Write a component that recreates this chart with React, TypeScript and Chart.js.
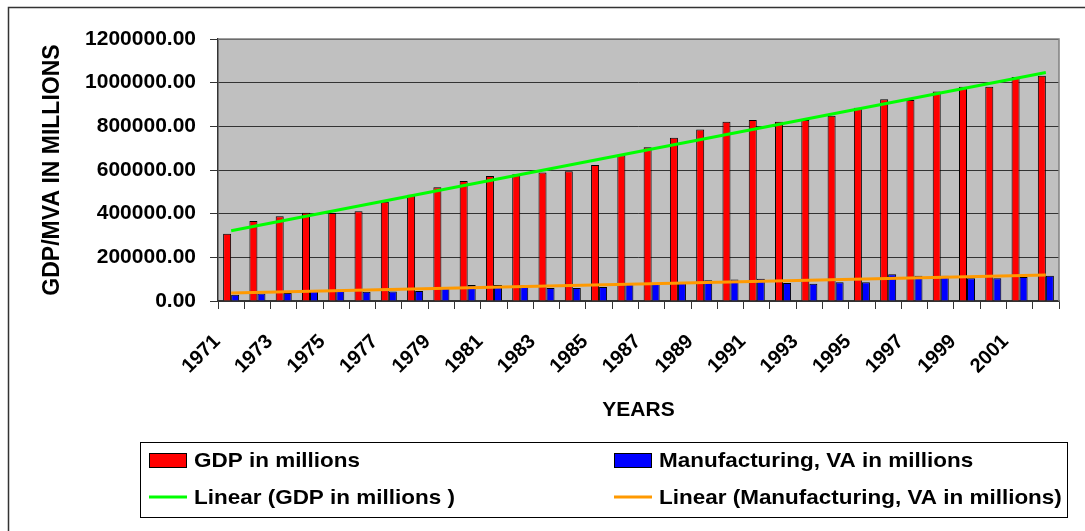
import React, { useEffect, useRef } from "react";
import { Chart, registerables } from "chart.js";

Chart.register(...registerables);

const years = [
  "1971", "1972", "1973", "1974", "1975", "1976", "1977", "1978",
  "1979", "1980", "1981", "1982", "1983", "1984", "1985", "1986",
  "1987", "1988", "1989", "1990", "1991", "1992", "1993", "1994",
  "1995", "1996", "1997", "1998", "1999", "2000", "2001", "2002",
];

const gdpInMillions = [
  308000, 366000, 388000, 404000, 403000, 411000, 455000, 487000,
  521000, 550000, 572000, 580000, 588000, 594000, 623000, 667000,
  704000, 748000, 785000, 821000, 829000, 821000, 829000, 849000,
  885000, 924000, 921000, 960000, 981000, 981000, 1026000, 1032000,
];

const manufacturingVA = [
  29000, 34000, 37000, 50000, 48000, 42000, 43000, 46000,
  64000, 73000, 73000, 72000, 60000, 60000, 64000, 82000,
  82000, 87000, 95000, 98000, 102000, 82000, 79000, 86000,
  86000, 122000, 116000, 116000, 104000, 104000, 110000, 116000,
];

// Trend line end values (first year, last year)
const gdpTrendEnds = [322000, 1047000];
const mfgTrendEnds = [36600, 119000];

const yMin = 0;
const yMax = 1200000;
const yStep = 200000;

const seriesNames = [
  "GDP in millions",
  "Manufacturing, VA in millions",
  "Linear (GDP in millions )",
  "Linear (Manufacturing, VA in millions)",
];

const FONT = '"Liberation Sans", Arial, Helvetica, sans-serif';

function endsToSeries(ends: number[], n: number) {
  const arr: (number | null)[] = new Array(n).fill(null);
  arr[0] = ends[0];
  arr[n - 1] = ends[1];
  return arr;
}

function stretchedText(ctx: CanvasRenderingContext2D, text: string, x: number, y: number, sx: number) {
  ctx.save();
  ctx.translate(x, y);
  ctx.scale(sx, 1);
  ctx.fillText(text, 0, 0);
  ctx.restore();
}

const decorPlugin = {
  id: "decor",
  beforeDraw(chart: any) {
    const { ctx, chartArea } = chart;
    ctx.save();
    ctx.fillStyle = "#ffffff";
    ctx.fillRect(0, 0, chart.width, chart.height);
    ctx.fillStyle = "#c0c0c0";
    ctx.fillRect(chartArea.left, chartArea.top, chartArea.right - chartArea.left, chartArea.bottom - chartArea.top);
    // outer frame (top and left visible)
    ctx.strokeStyle = "#333333";
    ctx.lineWidth = 1.5;
    ctx.beginPath();
    ctx.moveTo(8.5, chart.height + 5);
    ctx.lineTo(8.5, 7.5);
    ctx.lineTo(chart.width + 5, 7.5);
    ctx.stroke();
    ctx.restore();
  },
  afterDraw(chart: any) {
    const { ctx, chartArea } = chart;
    ctx.save();
    // plot area border top / right
    ctx.strokeStyle = "#808080";
    ctx.lineWidth = 1.5;
    ctx.beginPath();
    ctx.moveTo(chartArea.left, chartArea.top);
    ctx.lineTo(chartArea.right, chartArea.top);
    ctx.lineTo(chartArea.right, chartArea.bottom);
    ctx.stroke();

    // legend
    const ds = chart.data.datasets;
    ctx.strokeStyle = "#000000";
    ctx.lineWidth = 1;
    ctx.strokeRect(140.5, 442.5, 927, 75);
    ctx.font = `bold 21px ${FONT}`;
    ctx.textBaseline = "middle";
    ctx.textAlign = "left";
    const cols = [149, 614];
    const rows = [460, 497];
    const textGap = 45;
    const sx = 1.07;
    // row 1: bars
    for (let i = 0; i < 2; i++) {
      const x = cols[i];
      const y = rows[0];
      ctx.fillStyle = ds[i].backgroundColor;
      ctx.fillRect(x + 0.5, y - 6.5, 37, 14);
      ctx.strokeStyle = "#000";
      ctx.lineWidth = 1;
      ctx.strokeRect(x + 0.5, y - 6.5, 37, 14);
      ctx.fillStyle = "#000";
      stretchedText(ctx, seriesNames[i], x + textGap, y + 1, sx);
    }
    // row 2: lines
    for (let i = 0; i < 2; i++) {
      const x = cols[i];
      const y = rows[1];
      ctx.strokeStyle = ds[i + 2].borderColor;
      ctx.lineWidth = 3;
      ctx.beginPath();
      ctx.moveTo(x, y);
      ctx.lineTo(x + 38, y);
      ctx.stroke();
      ctx.fillStyle = "#000";
      stretchedText(ctx, seriesNames[i + 2], x + textGap, y + 1, sx);
    }
    ctx.restore();
  },
};

export default function App() {
  const canvasRef = useRef<HTMLCanvasElement | null>(null);

  useEffect(() => {
    if (!canvasRef.current) return;
    const n = years.length;
    const chart = new Chart(canvasRef.current, {
      type: "bar",
      data: {
        labels: years,
        datasets: [
          {
            type: "bar",
            label: seriesNames[0],
            data: gdpInMillions,
            backgroundColor: "#ff0000",
            borderColor: "#000000",
            borderWidth: 1,
            categoryPercentage: 0.61,
            barPercentage: 1.0,
            order: 2,
          },
          {
            type: "bar",
            label: seriesNames[1],
            data: manufacturingVA,
            backgroundColor: "#0000ff",
            borderColor: "#000000",
            borderWidth: 1,
            categoryPercentage: 0.61,
            barPercentage: 1.0,
            order: 2,
          },
          {
            type: "line",
            label: seriesNames[2],
            data: endsToSeries(gdpTrendEnds, n),
            borderColor: "#00ff00",
            backgroundColor: "#00ff00",
            borderWidth: 3,
            pointRadius: 0,
            spanGaps: true,
            fill: false,
            order: 0,
          },
          {
            type: "line",
            label: seriesNames[3],
            data: endsToSeries(mfgTrendEnds, n),
            borderColor: "#ff9900",
            backgroundColor: "#ff9900",
            borderWidth: 3,
            pointRadius: 0,
            spanGaps: true,
            fill: false,
            order: 0,
          },
        ] as any,
      },
      options: {
        responsive: false,
        animation: false,
        events: [],
        layout: { padding: { left: 30, right: 26, top: 39, bottom: 104 } },
        plugins: {
          legend: { display: false },
          tooltip: { enabled: false },
        },
        scales: {
          x: {
            offset: true,
            grid: {
              offset: true,
              display: true,
              drawOnChartArea: false,
              drawTicks: true,
              tickLength: 8,
              color: "#333333",
            },
            border: { display: true, color: "#333333", width: 1.5 },
            ticks: {
              autoSkip: false,
              maxRotation: 45,
              minRotation: 45,
              padding: 21,
              labelOffset: -14,
              color: "#000",
              font: { family: FONT, size: 20, weight: "bold" },
              callback: (_v: any, i: number) => (i % 2 === 0 ? years[i] : ""),
            },
            title: {
              display: true,
              text: "YEARS",
              color: "#000",
              font: { family: FONT, size: 21, weight: "bold" },
              padding: { top: 4, bottom: 4 },
            },
            afterFit: (s: any) => {
              s.height = 126;
            },
          },
          y: {
            min: yMin,
            max: yMax,
            grid: { color: "#333333", tickLength: 8, lineWidth: 1 },
            border: { display: true, color: "#333333", width: 1.5 },
            ticks: {
              stepSize: yStep,
              padding: 14,
              color: "#000",
              font: { family: FONT, size: 21, weight: "bold" },
              callback: (v: any) => Number(v).toFixed(2),
            },
            title: {
              display: true,
              text: "GDP/MVA IN MILLIONS",
              color: "#000",
              font: { family: FONT, size: 23, weight: "bold" },
              padding: { top: 9, bottom: 0 },
            },
            afterFit: (s: any) => {
              s.width = 188;
            },
          },
        },
      } as any,
      plugins: [decorPlugin],
    });
    return () => chart.destroy();
  }, []);

  return (
    <div style={{ position: "absolute", left: 0, top: 0, width: 1085, height: 531, background: "#fff" }}>
      <canvas ref={canvasRef} width={1085} height={531} style={{ width: 1085, height: 531, display: "block" }} />
    </div>
  );
}
